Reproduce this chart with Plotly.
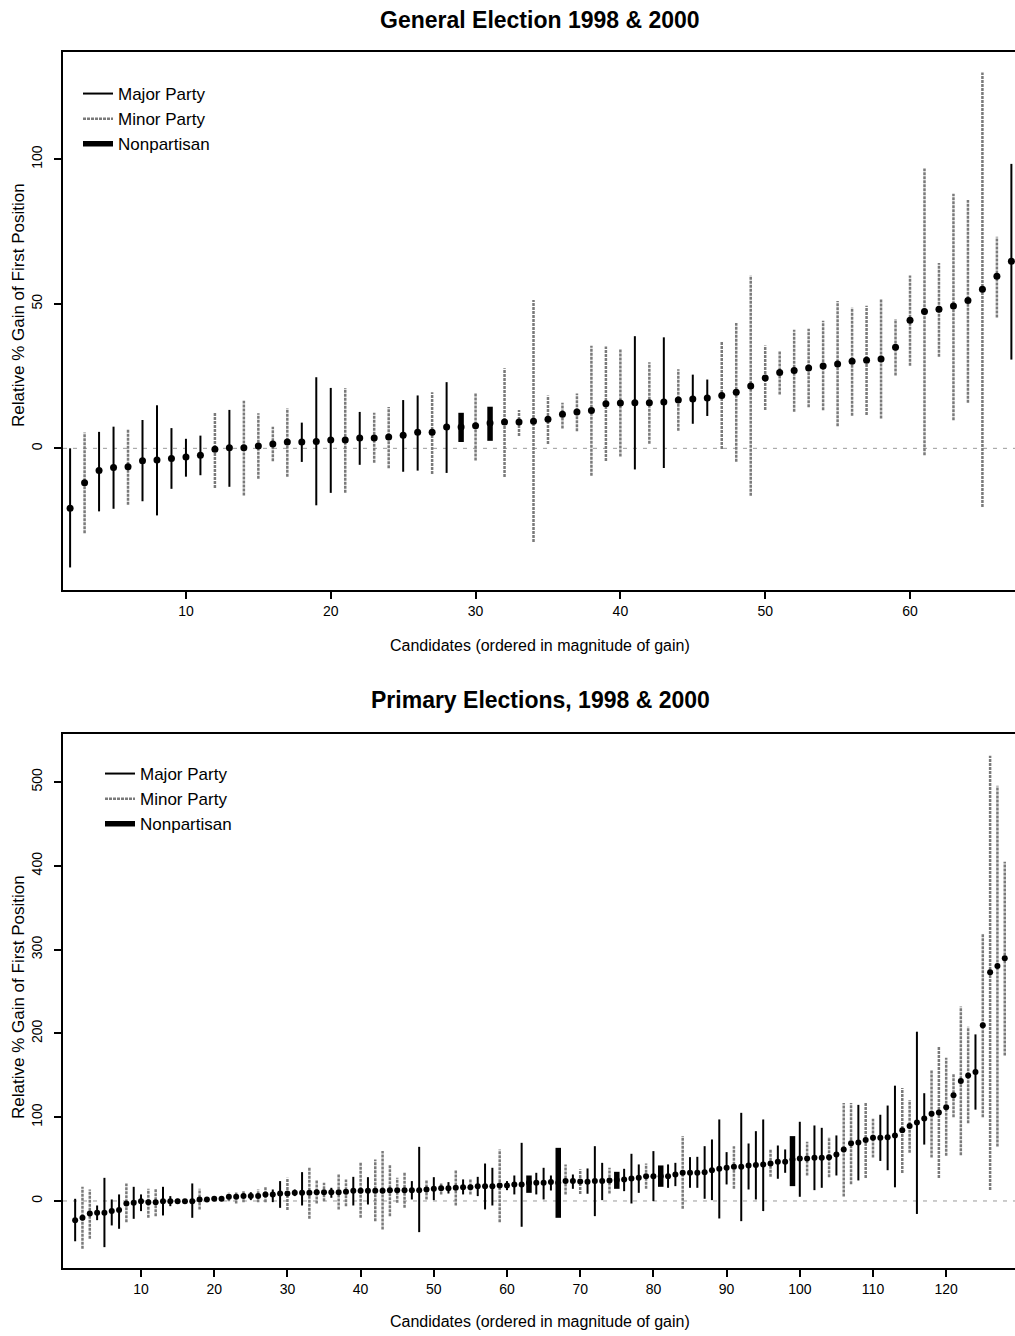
import plotly.graph_objects as go

# ---------------- General election panel ----------------
gen_x = list(range(2, 68))
gen_est = [-20.7, -11.9, -7.7, -6.6, -6.4, -4.3, -4.0, -3.5, -3.0, -2.4,
           -0.3, 0.2, 0.2, 0.8, 1.5, 2.2, 2.2, 2.4, 2.9, 2.9,
           3.6, 3.6, 3.9, 4.5, 5.6, 5.6, 7.4, 7.4, 7.8, 8.8,
           9.1, 9.1, 9.4, 10.1, 11.8, 12.6, 13.1, 15.4, 15.7, 15.8,
           15.8, 16.0, 16.7, 17.1, 17.4, 18.3, 19.4, 21.6, 24.3, 26.2,
           26.9, 27.8, 28.5, 29.2, 30.1, 30.5, 30.9, 35.0, 44.3, 47.3,
           48.1, 49.2, 51.1, 55.0, 59.5, 64.7]
gen_hi = [0.0, 5.5, 5.7, 7.5, 6.4, 9.8, 14.9, 7.0, 3.3, 4.4,
          12.6, 13.3, 16.5, 12.1, 7.5, 13.9, 8.9, 24.6, 20.9, 20.9,
          12.6, 12.3, 14.3, 16.7, 18.3, 19.4, 22.9, 12.3, 19.2, 14.4,
          27.7, 13.3, 51.3, 18.3, 15.8, 19.0, 35.5, 35.2, 34.3, 38.8,
          29.8, 38.4, 27.4, 25.5, 23.8, 37.1, 43.4, 59.8, 35.6, 33.7,
          41.0, 41.4, 44.1, 51.0, 48.7, 49.3, 51.6, 44.7, 59.8, 96.8,
          64.1, 88.1, 85.9, 130.0, 73.2, 98.4]
gen_lo = [-41.2, -29.4, -21.8, -20.9, -19.5, -18.3, -23.2, -14.0, -9.8, -9.3,
          -13.7, -13.3, -16.3, -10.5, -4.5, -9.8, -4.7, -19.7, -15.4, -15.4,
          -5.7, -5.0, -6.9, -8.1, -7.7, -8.9, -8.5, 2.2, -4.2, 2.6,
          -9.9, 4.3, -32.4, 1.5, 6.9, 5.9, -9.5, -4.4, -2.8, -7.3,
          1.6, -6.8, 6.1, 8.5, 11.2, -0.2, -4.6, -16.4, 13.3, 18.6,
          12.7, 14.2, 13.2, 7.6, 11.3, 11.5, 10.3, 25.2, 28.6, -2.4,
          31.7, 9.7, 15.8, -20.3, 45.3, 30.7]
# M = Major Party, m = Minor Party, N = Nonpartisan
gen_type = list("MmMMmMMMMM" "mMmmmmMMMm" "MmmMMmMNmN" "mmmmmmmmmM"
                "mMmMMmmmmm" "mmmmmmmmmm" "mmmmmM")

# ---------------- Primary election panel ----------------
pri_x = list(range(1, 129))
pri_est = [-22.9, -20.1, -14.9, -14.1, -14.1, -12.1, -10.9, -3.0, -2.2, -0.2,
           -1.4, -1.4, -0.2, -0.2, -0.2, -0.2, -0.2, 1.8, 1.8, 2.6,
           2.6, 5.0, 5.0, 5.8, 5.8, 5.8, 7.8, 7.8, 9.0, 9.0,
           9.7, 9.7, 9.7, 10.5, 10.5, 10.5, 10.5, 10.9, 12.1, 12.1,
           12.1, 12.1, 12.1, 12.9, 12.9, 12.9, 12.9, 12.9, 13.7, 14.5,
           15.3, 15.3, 15.7, 16.5, 16.5, 17.7, 17.7, 17.7, 18.5, 18.5,
           19.7, 19.7, 21.7, 21.7, 21.7, 22.5, 21.7, 23.7, 23.7, 23.3,
           22.9, 23.7, 23.7, 24.5, 24.9, 25.7, 26.8, 27.6, 29.6, 29.6,
           29.6, 29.6, 31.6, 33.6, 33.6, 33.6, 34.4, 36.8, 38.4, 39.6,
           40.8, 40.8, 42.4, 42.8, 43.6, 44.7, 46.7, 46.7, 49.5, 50.7,
           50.7, 51.5, 51.5, 52.3, 55.5, 61.5, 69.0, 69.8, 72.7, 75.5,
           75.5, 75.9, 78.0, 84.5, 89.4, 93.5, 98.4, 104.1, 105.7, 111.8,
           126.1, 143.3, 149.8, 153.9, 209.8, 273.1, 280.4, 289.8]
pri_hi = [2.6, 16.9, 13.7, -5.4, 27.6, 1.8, 7.8, 20.9, 16.9, 7.8,
          14.5, 14.5, 16.9, 5.8, 2.6, 1.8, 20.9, 14.5, 3.8, 5.0,
          5.8, 9.7, 10.5, 12.9, 10.5, 13.7, 16.9, 13.7, 23.7, 27.6,
          13.7, 34.4, 39.6, 24.9, 21.7, 15.7, 31.6, 25.7, 28.8, 45.5,
          28.4, 49.5, 59.5, 43.6, 27.6, 34.4, 23.7, 64.6, 24.9, 28.4,
          21.7, 22.5, 37.6, 25.7, 25.7, 28.8, 44.7, 39.6, 61.5, 23.7,
          30.4, 69.4, 30.4, 33.6, 39.6, 30.4, 63.4, 43.6, 31.6, 38.0,
          38.8, 65.4, 45.5, 39.6, 34.8, 38.4, 56.3, 43.6, 44.7, 59.5,
          42.4, 43.6, 45.5, 77.4, 52.3, 52.7, 65.4, 73.4, 97.3, 58.3,
          65.4, 105.2, 68.6, 83.3, 97.3, 61.5, 66.2, 61.5, 77.4, 94.5,
          70.6, 90.1, 87.3, 76.2, 78.2, 117.0, 117.0, 114.7, 118.0, 98.0,
          102.9, 113.9, 137.6, 134.7, 120.4, 202.0, 128.6, 156.7, 184.5, 171.0,
          151.8, 232.2, 207.8, 198.8, 319.2, 531.4, 495.5, 404.9]
pri_lo = [-48.1, -57.1, -45.1, -22.9, -55.1, -29.2, -33.2, -25.3, -21.3, -12.1,
          -20.1, -18.1, -17.3, -6.2, -3.0, -2.2, -20.1, -10.1, -0.2, 0.6,
          -0.2, -0.2, -3.0, -1.4, 1.0, -1.4, -1.4, -1.4, -8.2, -10.9,
          5.8, -5.4, -21.3, -3.0, -0.2, 3.8, -10.1, -6.2, -5.4, -20.1,
          -4.2, -24.1, -34.0, -18.1, -2.2, -8.2, 1.8, -37.2, 1.8, 1.0,
          7.8, 8.9, -5.4, 7.8, 7.8, 5.8, -10.1, -5.4, -25.3, 12.9,
          7.8, -30.8, 9.7, 7.8, 1.8, 12.5, -20.1, 7.8, 14.5, 8.4,
          8.6, -18.1, 1.0, 9.0, 14.5, 11.7, -3.0, 9.7, 14.5, -0.2,
          16.9, 15.7, 17.7, -9.3, 15.7, 15.7, 2.6, 1.0, -20.9, 19.7,
          14.5, -24.1, 13.7, 1.8, -12.1, 28.8, 26.5, 33.6, 17.7, 5.0,
          30.4, 12.9, 15.7, 28.4, 30.4, 5.4, 20.0, 24.5, 27.3, 51.8,
          47.8, 36.7, 16.3, 33.5, 57.6, -15.5, 67.3, 51.8, 27.3, 53.9,
          100.0, 54.7, 92.7, 109.0, 100.0, 13.1, 64.9, 173.5]
pri_type = list("MmmMMMMmMM" "mmMMMMMmMM" "MmmmMmmMMm" "MMmmmMmmMm"
                "MmmmmmMMmM" "mMmMmMMMmM" "MMNMMMNmMm" "MMMmNMMMmM"
                "NMMmMMMMMM" "mMMMMmMMNM" "mMMmMmmMmm" "MMMmmMMmmm"
                "mmmMmmmm")

assert len(gen_type) == len(gen_x) == len(gen_est) == len(gen_hi) == len(gen_lo)
assert len(pri_type) == len(pri_x) == len(pri_est) == len(pri_hi) == len(pri_lo)

TYPE_NAMES = {"M": "Major Party", "m": "Minor Party", "N": "Nonpartisan"}
STYLES = {
    "M": dict(color="black", width=2, dash="solid"),
    "m": dict(color="#7a7a7a", width=2.5, dash="3px,1px"),
    "N": dict(color="black", width=5.5, dash="solid"),
}

FONT = "Liberation Sans, Arial, Helvetica, sans-serif"

fig = go.Figure()


def add_panel(xs, est, hi, lo, types, xa, ya, legend, msize):
    for code in ["M", "m", "N"]:
        lx, ly = [], []
        for x, h, l, t in zip(xs, hi, lo, types):
            if t == code:
                lx += [x, x, None]
                ly += [l, h, None]
        fig.add_trace(go.Scatter(
            x=lx, y=ly, mode="lines", name=TYPE_NAMES[code],
            line=STYLES[code], xaxis=xa, yaxis=ya, legend=legend,
            hoverinfo="skip"))
    fig.add_trace(go.Scatter(
        x=xs, y=est, mode="markers", showlegend=False,
        marker=dict(color="black", size=msize, symbol="circle"),
        xaxis=xa, yaxis=ya))


add_panel(gen_x, gen_est, gen_hi, gen_lo, gen_type, "x", "y", "legend", 7)
add_panel(pri_x, pri_est, pri_hi, pri_lo, pri_type, "x2", "y2", "legend2", 6)

W, H = 1015, 1336
top_dom = [1 - 590 / H, 1 - 52 / H]
bot_dom = [1 - 1268 / H, 1 - 734 / H]
xdom = [63 / W, 1.0]

gen_xrange = [1.51, 67.25]
pri_xrange = [-0.66, 129.4]

axis_common = dict(showgrid=False, zeroline=False, showline=True,
                   linecolor="black", linewidth=2, ticks="outside",
                   ticklen=7, tickwidth=2, tickcolor="black",
                   tickfont=dict(family=FONT, size=14, color="black"))

legend_common = dict(xanchor="left", yanchor="top",
                     bgcolor="rgba(0,0,0,0)", borderwidth=0,
                     font=dict(family=FONT, size=17, color="black"),
                     traceorder="normal", itemwidth=30)


def ann(text, x, y, size, angle=0):
    return dict(text=text, xref="paper", yref="paper", x=x / W, y=1 - y / H,
                xanchor="center", yanchor="middle", showarrow=False,
                textangle=angle, font=dict(family=FONT, size=size, color="black"))


fig.update_layout(
    width=W, height=H,
    margin=dict(l=0, r=0, t=0, b=0),
    paper_bgcolor="white", plot_bgcolor="white",
    font=dict(family=FONT, color="black"),
    xaxis=dict(domain=xdom, anchor="y", range=gen_xrange, mirror=True,
               tickvals=[10, 20, 30, 40, 50, 60], **axis_common),
    yaxis=dict(domain=top_dom, anchor="x", range=[-49.0, 137.1],
               tickvals=[0, 50, 100], tickangle=-90, ticklabelstandoff=6,
               **axis_common),
    xaxis2=dict(domain=xdom, anchor="y2", range=pri_xrange, mirror=True,
                tickvals=list(range(10, 130, 10)), **axis_common),
    yaxis2=dict(domain=bot_dom, anchor="x2", range=[-80.0, 557.3],
                tickvals=[0, 100, 200, 300, 400, 500], tickangle=-90,
                ticklabelstandoff=6, **axis_common),
    legend=dict(x=78 / W, y=1 - 76 / H, **legend_common),
    legend2=dict(x=100 / W, y=1 - 756 / H, **legend_common),
    shapes=[
        dict(type="line", xref="x", yref="y", x0=gen_xrange[0], x1=gen_xrange[1],
             y0=0, y1=0, layer="below",
             line=dict(color="#9a9a9a", width=1, dash="4px,6px")),
        dict(type="line", xref="x2", yref="y2", x0=pri_xrange[0], x1=pri_xrange[1],
             y0=0, y1=0, layer="below",
             line=dict(color="#9a9a9a", width=1, dash="4px,6px")),
    ],
    annotations=[
        ann("<b>General Election 1998 & 2000</b>", 540, 20, 23),
        ann("<b>Primary Elections, 1998 & 2000</b>", 540, 700, 23),
        ann("Candidates (ordered in magnitude of gain)", 540, 646, 16),
        ann("Candidates (ordered in magnitude of gain)", 540, 1321, 16),
        ann("Relative % Gain of First Position", 18, 305, 17, -90),
        ann("Relative % Gain of First Position", 18, 997, 17, -90),
    ],
)

fig.write_html("out.html")
